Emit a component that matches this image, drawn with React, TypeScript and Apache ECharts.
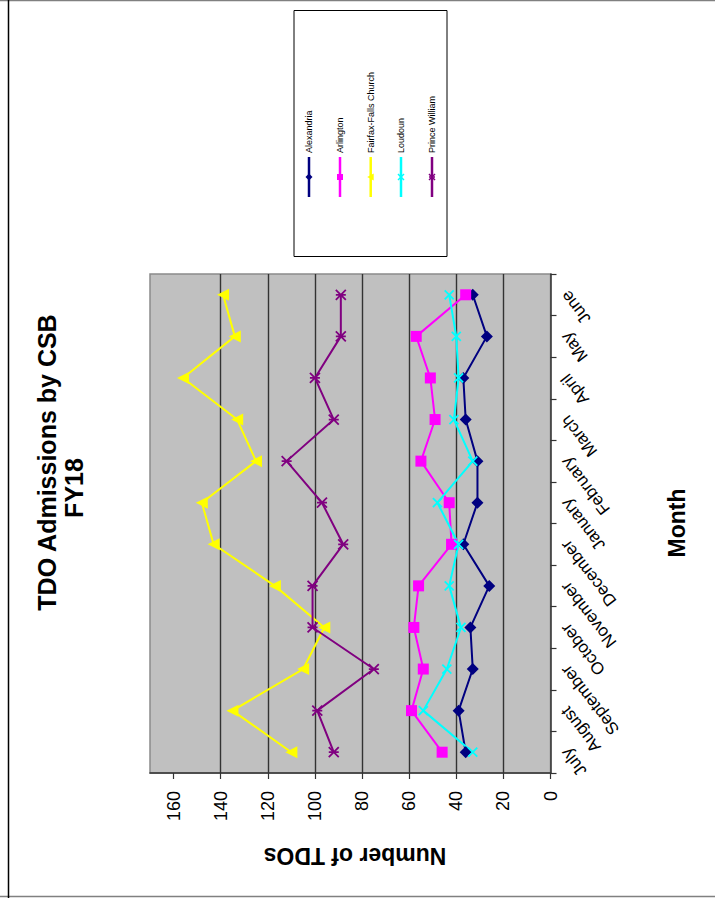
import React, { useEffect, useRef } from "react";
import * as echarts from "echarts";

const months = ["July", "August", "September", "October", "November", "December", "January", "February", "March", "April", "May", "June"];
const alexandria = [36, 39, 33, 34, 26, 37, 31, 31, 36, 37, 27, 33];
const arlington = [46, 59, 54, 58, 56, 42, 43, 55, 49, 51, 57, 36];
const fairfax = [110, 135, 105, 96, 117, 143, 148, 125, 133, 156, 134, 139];
const loudoun = [33, 54, 44, 38, 43, 39, 48, 33, 41, 39, 40, 43];
const princeWilliam = [92, 99, 75, 101, 101, 88, 97, 112, 92, 100, 89, 89];
const valueTicks = [0, 20, 40, 60, 80, 100, 120, 140, 160];
const seriesNames = ["Alexandria", "Arlington", "Fairfax-Falls Church", "Loudoun", "Prince William"];
const seriesColors = ["#000080", "#FF00FF", "#FFFF00", "#00FFFF", "#800080"];
const titleLines = ["TDO Admissions by CSB", "FY18"];
const xAxisTitle = "Month";
const yAxisTitle = "Number of TDOs";

const FONT = "'Liberation Sans', Arial, sans-serif";
const X_PATH = "path://M0,0L10,10M0,10L10,0";
const STAR_PATH = "path://M0,0L10,10M0,10L10,0M0,5L10,5";

export default function App() {
  const ref = useRef<HTMLDivElement>(null);
  useEffect(() => {
    if (!ref.current) return;
    const chart = echarts.init(ref.current, null, { renderer: "svg" });
    const seriesData = [alexandria, arlington, fairfax, loudoun, princeWilliam];
    const symbols = ["diamond", "rect", "triangle", X_PATH, STAR_PATH];
    const sizes = [12, 11, 12, 9, 10];
    const rotates = [0, 0, 90, 0, 0];
    const series = seriesData.map((d, i) => {
      const isPath = i >= 3;
      return {
        name: seriesNames[i],
        type: "line",
        data: d,
        symbol: symbols[i],
        symbolSize: sizes[i],
        symbolRotate: rotates[i],
        showAllSymbol: true,
        lineStyle: { color: seriesColors[i], width: 2 },
        itemStyle: isPath
          ? { color: seriesColors[i], borderColor: seriesColors[i], borderWidth: 1.8 }
          : { color: seriesColors[i], borderWidth: 0 },
        emphasis: { disabled: true },
      };
    });

    const legendX = [309, 340, 370.7, 401, 432];
    const legendEls: any[] = [
      {
        type: "rect",
        shape: { x: 294, y: 10.5, width: 153, height: 246 },
        style: { fill: "#fff", stroke: "#000", lineWidth: 1 },
      },
    ];
    legendX.forEach((lx, i) => {
      const c = seriesColors[i];
      legendEls.push({
        type: "line",
        shape: { x1: lx, y1: 157, x2: lx, y2: 197 },
        style: { stroke: c, lineWidth: 2.5 },
      });
      const my = 177;
      if (i === 0) {
        legendEls.push({ type: "polygon", shape: { points: [[lx, my - 3.5], [lx + 3.5, my], [lx, my + 3.5], [lx - 3.5, my]] }, style: { fill: c } });
      } else if (i === 1) {
        legendEls.push({ type: "rect", shape: { x: lx - 3, y: my - 3, width: 6, height: 6 }, style: { fill: c } });
      } else if (i === 2) {
        legendEls.push({ type: "polygon", shape: { points: [[lx - 3.5, my], [lx + 3, my - 3.5], [lx + 3, my + 3.5]] }, style: { fill: c } });
      } else {
        legendEls.push({ type: "line", shape: { x1: lx - 3, y1: my - 3, x2: lx + 3, y2: my + 3 }, style: { stroke: c, lineWidth: 1.5 } });
        legendEls.push({ type: "line", shape: { x1: lx - 3, y1: my + 3, x2: lx + 3, y2: my - 3 }, style: { stroke: c, lineWidth: 1.5 } });
        if (i === 4) {
          legendEls.push({ type: "line", shape: { x1: lx - 3, y1: my, x2: lx + 3, y2: my }, style: { stroke: c, lineWidth: 1.5 } });
        }
      }
      legendEls.push({
        type: "text",
        x: lx,
        y: 153,
        rotation: Math.PI / 2,
        style: { text: seriesNames[i], fontSize: 9, fontFamily: FONT, fill: "#000", align: "left", verticalAlign: "middle" },
      });
    });

    const baseGraphic: any[] = [
      { type: "line", shape: { x1: 0, y1: 0.5, x2: 715, y2: 0.5 }, style: { stroke: "#808080", lineWidth: 1.5 } },
      { type: "line", shape: { x1: 0, y1: 896.5, x2: 715, y2: 896.5 }, style: { stroke: "#808080", lineWidth: 1.5 } },
      { type: "line", shape: { x1: 8.5, y1: 0, x2: 8.5, y2: 898 }, style: { stroke: "#000", lineWidth: 1.5 } },
      {
        type: "text",
        x: 46.7,
        y: 462.5,
        rotation: Math.PI / 2,
        style: { text: titleLines[0], fontSize: 25, fontWeight: "bold", fontFamily: FONT, fill: "#000", align: "center", verticalAlign: "middle" },
      },
      {
        type: "text",
        x: 74,
        y: 488,
        rotation: Math.PI / 2,
        style: { text: titleLines[1], fontSize: 25, fontWeight: "bold", fontFamily: FONT, fill: "#000", align: "center", verticalAlign: "middle" },
      },
      {
        type: "text",
        x: 677,
        y: 523,
        rotation: Math.PI / 2,
        style: { text: xAxisTitle, fontSize: 23, fontWeight: "bold", fontFamily: FONT, fill: "#000", align: "center", verticalAlign: "middle" },
      },
      {
        type: "text",
        x: 355,
        y: 856,
        rotation: Math.PI,
        style: { text: yAxisTitle, fontSize: 23, fontWeight: "bold", fontFamily: FONT, fill: "#000", align: "center", verticalAlign: "middle" },
      },
      ...legendEls,
    ];

    chart.setOption({
      animation: false,
      backgroundColor: "#ffffff",
      grid: {
        left: 150,
        right: 164.5,
        top: 274,
        bottom: 125,
        show: true,
        backgroundColor: "#C0C0C0",
        borderColor: "#8a8a8a",
        borderWidth: 1.5,
        containLabel: false,
        outerBoundsMode: "none",
      },
      xAxis: {
        type: "value",
        inverse: true,
        min: 0,
        max: 170,
        interval: 20,
        position: "bottom",
        axisLine: { show: true, onZero: false, lineStyle: { color: "#333", width: 1.5 } },
        axisTick: { show: true, length: 6, lineStyle: { color: "#333", width: 1.2 }, customValues: valueTicks },
        axisLabel: {
          rotate: 90,
          margin: 18,
          fontSize: 18,
          fontFamily: FONT,
          color: "#000",
          customValues: valueTicks,
          formatter: (v: number) => (v > 160 ? "" : String(v)),
        },
        splitLine: { show: true, showMaxLine: false, showMinLine: false, lineStyle: { color: "#333", width: 1.4 } },
      },
      yAxis: {
        type: "category",
        data: months,
        position: "right",
        boundaryGap: true,
        axisLine: { show: true, onZero: false, lineStyle: { color: "#333", width: 1.5 } },
        axisTick: { show: true, length: 6, lineStyle: { color: "#333", width: 1.2 } },
        axisLabel: { show: false },
        splitLine: { show: false },
      },
      series,
      graphic: baseGraphic,
    });

    // Month labels, rotated, placed on the category axis positions
    const axisX = chart.convertToPixel({ xAxisIndex: 0 }, 0) as number;
    const monthLabels = months.map((m) => {
      const yc = chart.convertToPixel({ yAxisIndex: 0 }, m) as number;
      return {
        type: "text",
        x: axisX + 14,
        y: yc - 2,
        rotation: (128 * Math.PI) / 180,
        style: { text: m, fontSize: 17, fontFamily: FONT, fill: "#000", align: "right", verticalAlign: "middle" },
      };
    });
    chart.setOption({ graphic: [...baseGraphic, ...monthLabels] });

    return () => chart.dispose();
  }, []);
  return <div ref={ref} style={{ position: "fixed", left: 0, top: 0, width: 715, height: 898 }} />;
}
